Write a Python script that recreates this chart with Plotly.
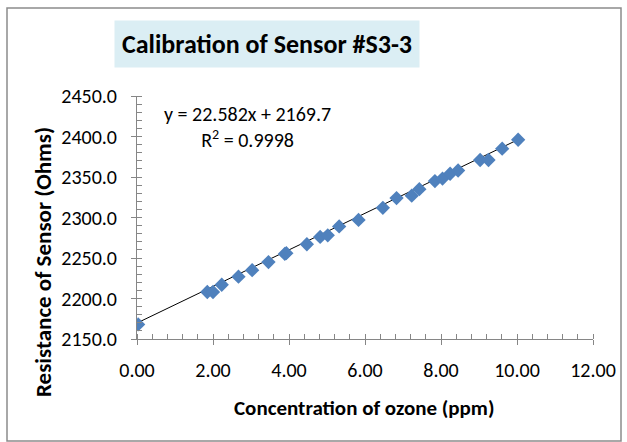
import numpy as np
import plotly.graph_objects as go

# data
conc_ppm = [0.03, 1.85, 2.00, 2.23, 2.67, 3.03, 3.46, 3.89, 3.93, 4.47, 4.82, 5.02, 5.32,
            5.83, 6.47, 6.83, 7.23, 7.43, 7.84, 8.04, 8.24, 8.45, 9.03, 9.25, 9.61, 10.03]
resistance = [2168, 2208, 2208, 2217, 2227, 2235, 2245, 2255, 2256, 2267, 2276, 2278, 2289,
              2297, 2312, 2324, 2327, 2335, 2345, 2348, 2354, 2358, 2371, 2371, 2385, 2396]
slope = 22.582
intercept = 2169.7
r_squared = 0.9998
x_ticks = [0, 2, 4, 6, 8, 10, 12]
y_ticks = [2150, 2200, 2250, 2300, 2350, 2400, 2450]

FONT = "Carlito, 'Liberation Sans Narrow', 'Arial Narrow', 'Open Sans', sans-serif"
AXIS_COLOR = "#868686"

# plot area in pixels
L, R, T, B = 137, 593, 96, 339
PW, PH = R - L, B - T


def px(x):
    return (x - L) / PW


def py(y):
    return (B - y) / PH


trend_x = np.array([0.0, max(conc_ppm)])
trend_y = slope * trend_x + intercept

fig = go.Figure()
fig.add_trace(go.Scatter(x=trend_x, y=trend_y, mode="lines",
                         line=dict(color="black", width=1), hoverinfo="skip", showlegend=False))
fig.add_trace(go.Scatter(x=conc_ppm, y=resistance, mode="markers",
                         marker=dict(symbol="diamond", size=11, color="#4F81BD",
                                     line=dict(width=0)),
                         showlegend=False))
fig.add_trace(go.Scatter(x=[None], y=[None], xaxis="x2", yaxis="y2", showlegend=False,
                         hoverinfo="skip"))

xcommon = dict(range=[0, 12], tickvals=x_ticks, showgrid=False, zeroline=False)
ycommon = dict(range=[2150, 2450], tickvals=y_ticks, showgrid=False, zeroline=False)

fig.update_layout(
    width=627, height=442,
    margin=dict(l=L, r=627 - R, t=T, b=442 - B),
    paper_bgcolor="white", plot_bgcolor="white",
    font=dict(family=FONT, size=20, color="black"),
    xaxis=dict(**xcommon, ticktext=[f"{v:.2f}" for v in x_ticks],
               showline=True, linecolor=AXIS_COLOR, linewidth=1,
               ticks="outside", ticklen=5, tickcolor=AXIS_COLOR,
               minor=dict(dtick=0.4, ticks="inside", ticklen=5, tickcolor=AXIS_COLOR),
               tickfont=dict(size=20), ticklabelstandoff=8),
    yaxis=dict(**ycommon, ticktext=[f"{v:.1f}" for v in y_ticks],
               showline=True, linecolor=AXIS_COLOR, linewidth=1,
               ticks="outside", ticklen=5, tickcolor=AXIS_COLOR,
               minor=dict(dtick=10, ticks="inside", ticklen=5, tickcolor=AXIS_COLOR),
               tickfont=dict(size=20), ticklabelstandoff=10),
    xaxis2=dict(**xcommon, overlaying="x", showticklabels=False, showline=False,
                ticks="inside", ticklen=5, tickcolor=AXIS_COLOR),
    yaxis2=dict(**ycommon, overlaying="y", showticklabels=False, showline=False,
                ticks="inside", ticklen=5, tickcolor=AXIS_COLOR),
    shapes=[dict(type="rect", xref="paper", yref="paper",
                 x0=px(7), x1=px(621), y0=py(441), y1=py(8),
                 line=dict(color="#8C8C8C", width=1.5), fillcolor="rgba(0,0,0,0)", layer="below")],
    annotations=[
        dict(text="<b>Calibration of Sensor #S3-3</b>", xref="paper", yref="paper",
             x=px(267), y=py(44), xanchor="center", yanchor="middle",
             showarrow=False, font=dict(size=26, family=FONT), bgcolor="#DBEEF4",
             borderpad=7),
        dict(text=f"y = {slope}x + {intercept}<br>R<sup>2</sup> = {r_squared}",
             xref="paper", yref="paper", x=px(247), y=py(127),
             xanchor="center", yanchor="middle", align="center", showarrow=False,
             font=dict(size=20, family=FONT)),
        dict(text="<b>Concentration of ozone (ppm)</b>", xref="paper", yref="paper",
             x=px(364), y=py(408), xanchor="center", yanchor="middle", showarrow=False,
             font=dict(size=21, family=FONT)),
        dict(text="<b>Resistance of Sensor (Ohms)</b>", xref="paper", yref="paper",
             x=px(43), y=py(262), xanchor="center", yanchor="middle", showarrow=False,
             textangle=-90, font=dict(size=23, family=FONT)),
    ],
)

fig.write_html("out.html", config={"displayModeBar": False},
               post_script="document.body.style.margin='0';")
